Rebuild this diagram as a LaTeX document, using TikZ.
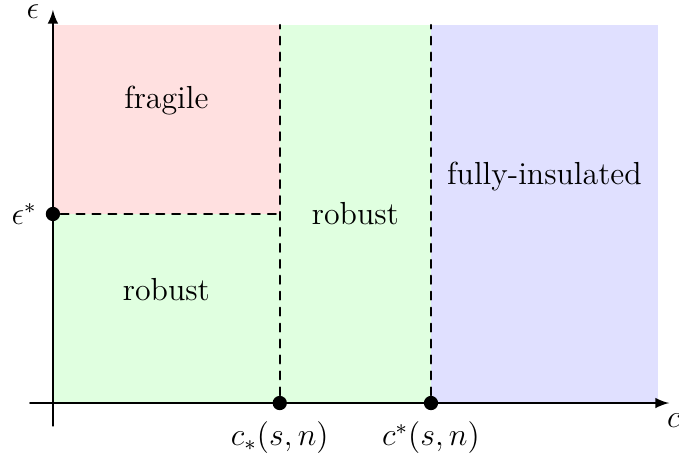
\documentclass[tikz,border=0pt]{standalone}
\usetikzlibrary{positioning}

\begin{document}
\begin{tikzpicture}[>=latex, line cap=round, line join=round, x=1cm, y=1cm]

% --- Global TikZ Styles ---
\tikzset{
    axis/.style={
        draw=black,
        thick,
        ->
    },
    boundary/.style={
        draw=black,
        dashed,
        thick
    },
    blackpoint/.style={
        circle,
        fill=black,
        inner sep=1.9pt
    },
    regionlabel/.style={
        font=\large
    },
    axislabel/.style={
        font=\large,
        inner sep=2pt
    }
}

% --- Vaste grootte van het plaatje ---
\useasboundingbox (-0.70,-0.714) rectangle (8.28,5.33);

% --- Gekleurde gebieden ---
\fill[red!12]   (0,2.5) rectangle (3,5);
\fill[green!12] (0,0)   rectangle (3,2.5);
\fill[green!12] (3,0)   rectangle (5,5);
\fill[blue!12]  (5,0)   rectangle (8,5);

% --- Assen ---
\coordinate (xstart) at (-0.3,0);
\coordinate (xend)   at (8.15,0);
\coordinate (ystart) at (0,-0.3);
\coordinate (yend)   at (0,5.2);
\coordinate (ctop)   at (3,5);
\coordinate (Ctop)   at (5,5);
\coordinate (ecorner) at (3,2.5);

\draw[axis] (xstart) -- (xend);
\draw[axis] (ystart) -- (yend);

\node[axislabel, below right, xshift=-3pt, yshift=-2pt] at (xend) {$c$};
\node[axislabel, left, inner sep=1pt, xshift=-4pt, yshift=-0.5pt] at (yend) {$\epsilon$};

% --- Punten ---
\node[blackpoint] (estar) at (0,2.5) {};
\node[blackpoint] (clow)  at (3,0) {};
\node[blackpoint] (chigh) at (5,0) {};

% --- Grenzen tussen gebieden ---
\draw[boundary] (estar) -- (ecorner);
\draw[boundary] (clow) -- (ctop);
\draw[boundary] (chigh) -- (Ctop);

% --- Labels ---
\node[axislabel, left=1pt of estar] {$\epsilon^*$};
\node[axislabel, below=2pt of clow] {$c_*(s,n)$};
\node[axislabel, below=2pt of chigh] {$c^*(s,n)$};

\node[regionlabel] (fragile) at (1.5,4.0) {fragile};
\node[regionlabel] (robustA) at (1.5,1.5) {robust};
\node[regionlabel] (robustB) at (4.0,2.5) {robust};
\node[regionlabel] (insulated) at (6.5,3.0) {fully-insulated};

\end{tikzpicture}
\end{document}
